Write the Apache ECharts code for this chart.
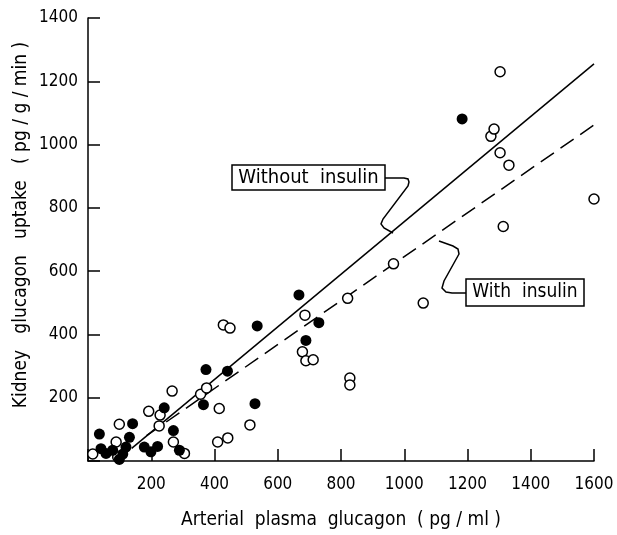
<!DOCTYPE html>
<html>
<head>
<meta charset="utf-8">
<script src="https://cdn.jsdelivr.net/npm/echarts@6/dist/echarts.min.js"></script>
<style>html,body{margin:0;padding:0;background:#fff;}#c{width:617px;height:535px;}</style>
</head>
<body>
<div id="c"></div>
<script>
// Without insulin (filled circles): [arterial glucagon pg/ml, kidney uptake pg/g/min]
const withoutInsulin = [
  [36,85],[41,39],[57,24],[78,34],[99,5],[110,22],[120,44],[131,75],[141,118],
  [178,44],[199,29],[220,46],[241,168],[270,96],[289,34],[365,178],[373,289],
  [441,284],[528,181],[535,427],[667,525],[689,381],[730,437],[1183,1081]
];
// With insulin (open circles)
const withInsulin = [
  [15,22],[89,60],[94,13],[99,116],[192,157],[228,145],[225,111],[266,221],
  [270,60],[305,24],[356,211],[375,231],[410,60],[442,73],[415,166],[428,430],
  [449,420],[512,114],[678,345],[686,461],[689,317],[712,320],[821,514],
  [828,262],[828,240],[966,623],[1060,499],[1274,1026],[1284,1049],[1303,1230],
  [1303,974],[1331,935],[1313,741],[1600,828]
];
// Regression lines
const fitWithout = [[138,40],[1600,1255]];
const fitWith = [[185,80],[1600,1062]];
const xMax = 1600, yMax = 1400, tickStep = 200;
const xTitle = 'Arterial  plasma  glucagon  ( pg / ml )';
const yTitle = 'Kidney   glucagon   uptake   ( pg / g / min )';
const labelWithout = 'Without  insulin';
const labelWith = 'With  insulin';

const FONT = '"DejaVu Sans Condensed", "DejaVu Sans", sans-serif';
const chart = echarts.init(document.getElementById('c'), null, {renderer: 'canvas'});
const axisCommon = {
  interval: tickStep,
  axisLine: {show: true, onZero: false, lineStyle: {color: '#000', width: 1.5}},
  axisTick: {show: true, inside: true, length: 12, lineStyle: {color: '#000', width: 1.5}},
  splitLine: {show: false},
  axisLabel: {color: '#000', fontFamily: FONT, fontSize: 17, margin: 10,
    formatter: v => v === 0 ? '' : String(v)}
};
const black = {fill: null, stroke: '#000', lineWidth: 1.5};
chart.setOption({
  animation: false,
  backgroundColor: '#fff',
  grid: {left: 88, right: 23, top: 18, bottom: 64, containLabel: false},
  xAxis: Object.assign({}, axisCommon, {type: 'value', min: 0, max: xMax,
    axisLabel: Object.assign({}, axisCommon.axisLabel, {margin: 15}),
    name: xTitle, nameLocation: 'middle', nameGap: 50,
    nameTextStyle: {color: '#000', fontFamily: FONT, fontSize: 19}}),
  yAxis: Object.assign({}, axisCommon, {type: 'value', min: 0, max: yMax}),
  series: [
    {type: 'line', data: fitWithout, symbol: 'none', lineStyle: {color: '#000', width: 1.5}, z: 1},
    {type: 'line', data: fitWith, symbol: 'none', lineStyle: {color: '#000', width: 1.5, type: [16, 8]}, z: 1},
    {type: 'scatter', data: withInsulin, symbol: 'circle', symbolSize: 10,
      itemStyle: {color: '#fff', borderColor: '#000', borderWidth: 1.5, opacity: 1}, z: 3},
    {type: 'scatter', data: withoutInsulin, symbol: 'circle', symbolSize: 11,
      itemStyle: {color: '#000', borderColor: '#000', borderWidth: 0, opacity: 1}, z: 4}
  ],
  graphic: [
    {type: 'text', x: 21, y: 225, rotation: Math.PI / 2,
      style: {text: yTitle, fill: '#000', font: '19px ' + FONT, textAlign: 'center', textVerticalAlign: 'middle'}},
    {type: 'rect', shape: {x: 232, y: 165, width: 153, height: 25},
      style: {fill: '#fff', stroke: '#000', lineWidth: 1.5}, z: 10},
    {type: 'text', x: 308.5, y: 178,
      style: {text: labelWithout, fill: '#000', font: '20px ' + FONT, textAlign: 'center', textVerticalAlign: 'middle'}, z: 11},
    {type: 'polyline', shape: {points: [[385,178],[404,178],[408,179],[409,182],[408,186],[383,219],[381,224],[384,228],[393,233]]},
      style: black, z: 10},
    {type: 'rect', shape: {x: 466, y: 279, width: 118, height: 27},
      style: {fill: '#fff', stroke: '#000', lineWidth: 1.5}, z: 10},
    {type: 'text', x: 525, y: 292.5,
      style: {text: labelWith, fill: '#000', font: '19px ' + FONT, textAlign: 'center', textVerticalAlign: 'middle'}, z: 11},
    {type: 'polyline', shape: {points: [[439,241],[453,246],[458,249],[459,254],[444,281],[442,288],[446,292],[452,293],[466,293]]},
      style: black, z: 10}
  ]
});
</script>
</body>
</html>
